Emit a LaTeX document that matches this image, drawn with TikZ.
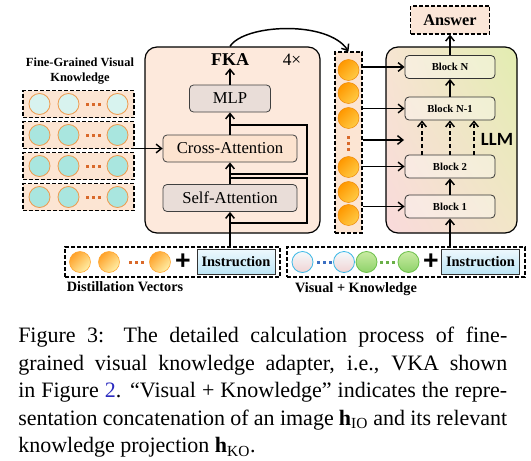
\documentclass[tikz,border=0pt]{standalone}
\usepackage{fontspec}
\setmainfont{Liberation Serif}
\newfontfamily\llmfont{Carlito}
\newfontfamily\plusfont{Liberation Sans}
\usepackage{tikz}
\usetikzlibrary{arrows.meta, positioning, calc, shadings}
\definecolor{FkaPeach}{HTML}{FDE9DC}
\definecolor{CrossPeach}{HTML}{FCE3CF}
\definecolor{AttnGrey}{HTML}{E9DDD8}
\definecolor{ColPeach}{HTML}{FCE5D3}
\definecolor{AnsPeach}{HTML}{FBE6D8}
\definecolor{FgLight}{HTML}{D8F3EF}
\definecolor{FgTeal}{HTML}{A9E6DF}
\definecolor{FgEdge}{HTML}{EE9A4E}
\definecolor{DotOrange}{HTML}{D9692A}
\definecolor{BallEdge}{HTML}{F08C0A}
\definecolor{BallDeep}{HTML}{FF9800}
\definecolor{BallLight}{HTML}{FFCB45}
\definecolor{DistDeep}{HTML}{FFA22A}
\definecolor{DistLight}{HTML}{FFF0A8}
\definecolor{VisEdge}{HTML}{3DB8E6}
\definecolor{VisTop}{HTML}{F5FAFC}
\definecolor{VisBot}{HTML}{F1D3D3}
\definecolor{KnEdge}{HTML}{6CC04A}
\definecolor{KnTop}{HTML}{C9EBA2}
\definecolor{KnBot}{HTML}{8ED26A}
\definecolor{DotBlue}{HTML}{3B6FC2}
\definecolor{DotGreen}{HTML}{6AAF48}
\definecolor{InstrTop}{HTML}{EEF8FD}
\definecolor{InstrBot}{HTML}{BDE6F6}
\definecolor{LlmUL}{HTML}{F7E5D2}
\definecolor{LlmUR}{HTML}{E2EDB0}
\definecolor{LlmLL}{HTML}{F9DADB}
\definecolor{LlmLR}{HTML}{F2E6C8}
\definecolor{LinkBlue}{HTML}{2A2ABF}
\tikzset{
  fkabox/.style={rectangle, rounded corners=9pt, draw=black, line width=0.9pt, fill=FkaPeach, minimum width=131.25pt, minimum height=139.5pt},
  greybox/.style={rectangle, rounded corners=3pt, draw=black!75, line width=0.6pt, fill=AttnGrey, minimum width=100.5pt, minimum height=20.25pt, inner sep=0pt, font=\fontsize{12.5}{14}\selectfont},
  crossbox/.style={greybox, fill=CrossPeach},
  fkatitle/.style={font=\bfseries\fontsize{13.5}{15}\selectfont, inner sep=1.5pt},
  llmbox/.style={rectangle, rounded corners=9pt, draw=black, line width=0.9pt, minimum width=98.25pt, minimum height=139.5pt, shade, upper left=LlmUL, upper right=LlmUR, lower left=LlmLL, lower right=LlmLR},
  blockbox/.style={rectangle, rounded corners=3pt, draw=black!80, line width=0.6pt, fill=white, fill opacity=0.35, text opacity=1, minimum width=67.5pt, minimum height=17.25pt, inner sep=0pt, font=\bfseries\fontsize{8}{9}\selectfont},
  llmlabel/.style={font=\llmfont\bfseries\fontsize{14}{16}\selectfont},
  dashbox/.style={rectangle, draw=black, line width=0.9pt, dash pattern=on 3pt off 1.5pt, inner sep=0pt},
  rowbox/.style={dashbox, fill=ColPeach, minimum width=83.25pt, minimum height=20.25pt},
  fgcircle/.style={circle, draw=FgEdge, line width=0.6pt, minimum size=15.75pt, inner sep=0pt},
  orangeball/.style={circle, draw=BallEdge, line width=0.4pt, top color=BallDeep, bottom color=BallLight, shading angle=45, minimum size=15.75pt, inner sep=0pt},
  distball/.style={circle, draw=DistDeep, line width=0.4pt, top color=DistDeep, bottom color=DistLight, shading angle=45, minimum size=15.75pt, inner sep=0pt},
  viscircle/.style={circle, draw=VisEdge, line width=0.6pt, top color=VisTop, bottom color=VisBot, minimum size=15.75pt, inner sep=0pt},
  kncircle/.style={circle, draw=KnEdge, line width=0.6pt, top color=KnTop, bottom color=KnBot, minimum size=15.75pt, inner sep=0pt},
  instrbox/.style={rectangle, draw=black!80, line width=0.7pt, top color=InstrTop, bottom color=InstrBot, minimum width=58.5pt, minimum height=18.75pt, inner sep=0pt, font=\bfseries\fontsize{10.8}{12}\selectfont},
  plus/.style={font=\plusfont\bfseries\fontsize{20}{20}\selectfont, inner sep=0pt},
  lbl/.style={font=\bfseries\fontsize{10.7}{12}\selectfont, inner sep=0pt},
  arrow/.style={-{Straight Barb[length=4pt,width=6.5pt]}, line width=1.1pt},
  dashedarrow/.style={arrow, dash pattern=on 3pt off 2pt},
  resline/.style={line width=0.8pt}
}

\begin{document}
\begin{tikzpicture}[x=0.75pt, y=-0.75pt]
  \useasboundingbox (0,0) rectangle (531,460);

  % FKA adapter
  \node[fkabox] (fkabox) at (232.5,140) {};
  \node[fkatitle] (fka) at (230,60) {FKA};
  \node[font=\fontsize{13}{15}\selectfont] (rep) at (292,60) {4×};
  \node[greybox, minimum width=60.75pt] (mlp) at (230,98.5) {MLP};
  \node[crossbox] (cross) at (230,148.5) {Cross-Attention};
  \node[greybox] (self) at (230,198) {Self-Attention};
  \draw[arrow] (self) -- (cross);
  \draw[arrow] (cross) -- (mlp);
  \draw[arrow] (mlp) -- (fka);

  % residual paths
  \coordinate (resA) at (230,223);
  \coordinate (resB) at (230,178);
  \coordinate (resC) at (230,174);
  \coordinate (resD) at (230,125);
  \draw[resline] (resA) -- ++(77,0) |- (resB);
  \draw[resline] (resC) -- ++(77,0) |- (resD);

  % Fine-grained visual knowledge
  \node[lbl, font=\bfseries\fontsize{9.3}{11.25}\selectfont, align=center] (fglabel) at (80,71) {Fine-Grained Visual\\Knowledge};
  \foreach \r/\y/\col in {1/104/FgLight, 2/135/FgTeal, 3/166/FgTeal, 4/197/FgTeal} {
    \node[rowbox] (row\r) at (78.5,\y) {};
    \foreach \x [count=\k] in {39.5,68.5,117.5}
      \node[fgcircle, fill=\col] (fg\r\k) at (\x,\y) {};
    \foreach \x in {87,93,99}
      \fill[DotOrange] (\x-1.5,\y-1.5) rectangle ++(3,3);
  }
  \draw[arrow] (row2.east |- cross.west) -- (cross.west);

  % Output tokens
  \node[dashbox, fill=ColPeach, minimum width=20.25pt, minimum height=135.75pt] (col) at (348.5,142.5) {};
  \foreach \y [count=\k] in {70,93,118,167,192,215}
    \node[orangeball] (o\k) at (348.5,\y) {};
  \foreach \y in {137,143,149}
    \fill[DotOrange] (347,\y-1.5) rectangle ++(3,3);
  \draw[arrow] (fkabox.north -| fka.center) .. controls (244,24) and (328,20) .. (col.north);

  % LLM
  \node[llmbox] (llm) at (451.5,140) {};
  \node[blockbox] (bN) at (450,67) {Block N};
  \node[blockbox] (bN1) at (450,108.5) {Block N-1};
  \node[blockbox] (b2) at (450,166.5) {Block 2};
  \node[blockbox] (b1) at (450,206.5) {Block 1};
  \node[llmlabel] (llmlbl) at (497,139) {LLM};
  \node[dashbox, fill=AnsPeach, minimum width=59.25pt, minimum height=21pt, font=\bfseries\fontsize{12.2}{14}\selectfont] (answer) at (450,20) {Answer};
  \draw[arrow] (b1) -- (b2);
  \draw[arrow] (bN1) -- (bN);
  \draw[arrow] (bN) -- (answer);
  \foreach \dx in {-21pt,0pt,18pt}
    \draw[dashedarrow] ([xshift=\dx]b2.north) -- ([xshift=\dx]bN1.south);
  \foreach \b in {bN,bN1,b2,b1}
    \draw[arrow] (col.east |- \b.west) -- (\b.west);
  \coordinate (gap) at (404,140);
  \draw[arrow] (col.east |- gap) -- (gap);

  % Distillation vectors
  \node[dashbox, fill=white, minimum width=161.25pt, minimum height=22.5pt] (distbox) at (172.5,262) {};
  \foreach \x [count=\k] in {80,109,160}
    \node[distball] (d\k) at (\x,262) {};
  \foreach \x in {130,136,142}
    \fill[DotOrange] (\x-1.5,260.5) rectangle ++(3,3);
  \node[plus] (plusA) at (183,262) {+};
  \node[instrbox] (instrA) at (236,261.5) {Instruction};
  \node[lbl] (distlbl) at (125,287) {Distillation Vectors};
  \draw[arrow] (distbox.north -| self.south) -- (self.south);

  % Visual + Knowledge
  \node[dashbox, fill=white, minimum width=178.5pt, minimum height=22.5pt] (visbox) at (406,262) {};
  \node[viscircle] (v1) at (302.5,262) {};
  \node[viscircle] (v2) at (344,262) {};
  \node[kncircle] (k1) at (366.5,262) {};
  \node[kncircle] (k2) at (408.5,262) {};
  \foreach \x in {318,324,330}
    \fill[DotBlue] (\x-1.5,260.5) rectangle ++(3,3);
  \foreach \x in {381,387,393}
    \fill[DotGreen] (\x-1.5,260.5) rectangle ++(3,3);
  \node[plus] (plusB) at (431,262) {+};
  \node[instrbox] (instrB) at (480.5,261.5) {Instruction};
  \node[lbl] (vislbl) at (356,289) {Visual + Knowledge};
  \draw[arrow] (visbox.north -| b1.south) -- (b1.south);

  % Caption
  \node[anchor=north west, inner sep=0pt, text width=366.75pt, align=justify, font=\fontsize{16.5}{20.6}\selectfont] (caption) at (18,327)
    {Figure 3: The detailed calculation process of fine-\linebreak grained visual knowledge adapter, i.e., VKA shown\linebreak in Figure \textcolor{LinkBlue}{2}. “Visual + Knowledge” indicates the repre-\linebreak sentation concatenation of an image \textbf{h}\textsubscript{IO} and its relevant knowledge projection \textbf{h}\textsubscript{KO}.};
\end{tikzpicture}
\end{document}
